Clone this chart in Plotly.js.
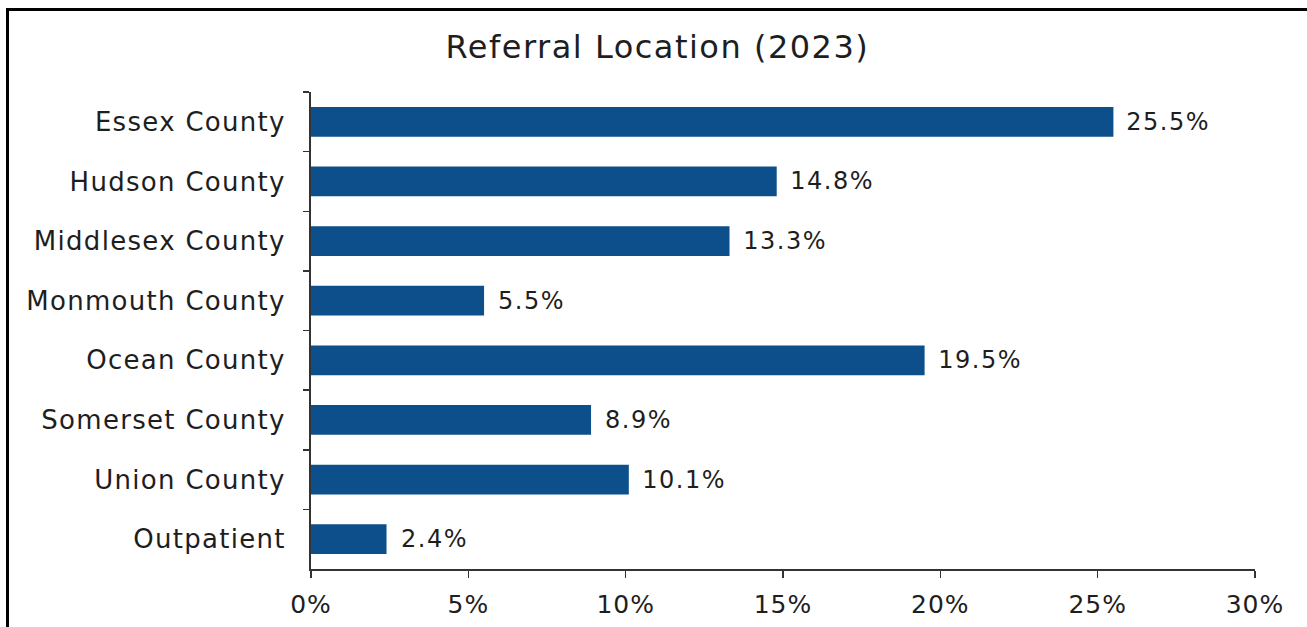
<!DOCTYPE html>
<html>
<head>
<meta charset="utf-8">
<script src="https://cdn.plot.ly/plotly-3.0.1.min.js"></script>
<style>
html,body{margin:0;padding:0;background:#fff;overflow:hidden;width:1307px;height:627px;}
#chart{position:absolute;left:0;top:0;width:1307px;height:627px;}
#frame{position:absolute;left:6px;top:8px;width:1320px;height:640px;border:3px solid #000;pointer-events:none;}
#chart .ytick text{letter-spacing:1.3px;}
#chart .xtick text{letter-spacing:1px;}
#chart .gtitle{letter-spacing:1.5px;}
#chart .annotation-text{letter-spacing:1.5px;}
</style>
</head>
<body>
<div id="chart"></div>
<div id="frame"></div>
<script>
const categories = ["Essex County","Hudson County","Middlesex County","Monmouth County","Ocean County","Somerset County","Union County","Outpatient"];
const values = [25.5, 14.8, 13.3, 5.5, 19.5, 8.9, 10.1, 2.4];
const tickVals = [0,5,10,15,20,25,30];
const tickText = ["0%","5%","10%","15%","20%","25%","30%"];

const font = "'DejaVu Sans', sans-serif";
const textColor = "#1e1e1e";
const trace = {
  type: "bar",
  orientation: "h",
  x: values,
  y: categories,
  marker: {color: "#0c4f8a"},
  hoverinfo: "none"
};
const annotations = values.map((v,i)=>({
  x: v, y: categories[i], xref: "x", yref: "y",
  text: v.toFixed(1) + "%", showarrow: false,
  xanchor: "left", yanchor: "middle", xshift: 15,
  font: {family: font, size: 24, color: textColor}
}));
const layout = {
  width: 1307, height: 627,
  margin: {l: 311, r: 52, t: 92, b: 58},
  paper_bgcolor: "#fff", plot_bgcolor: "#fff",
  showlegend: false,
  bargap: 0.5,
  title: {text: "Referral Location (2023)", x: 0.503, xanchor: "center", y: 0.925, yanchor: "middle", yref: "container",
          font: {family: font, size: 32, color: textColor}},
  xaxis: {range: [0, 30], tickvals: tickVals, ticktext: tickText, showgrid: false, zeroline: false,
          showline: true, linecolor: "#333", linewidth: 2, ticks: "outside", ticklen: 7, tickcolor: "#333", tickwidth: 1.5,
          ticklabelstandoff: 5,
          tickfont: {family: font, size: 25, color: textColor}, fixedrange: true},
  yaxis: {autorange: "reversed", showgrid: false, zeroline: false, showline: true, linecolor: "#333", linewidth: 2,
          ticks: "outside", tickson: "boundaries", ticklen: 6, tickcolor: "#333", tickwidth: 1.5,
          ticklabelstandoff: 18,
          tickfont: {family: font, size: 26, color: textColor}, fixedrange: true},
  annotations: annotations
};
Plotly.newPlot("chart", [trace], layout, {displayModeBar: false, staticPlot: true});
</script>
</body>
</html>
